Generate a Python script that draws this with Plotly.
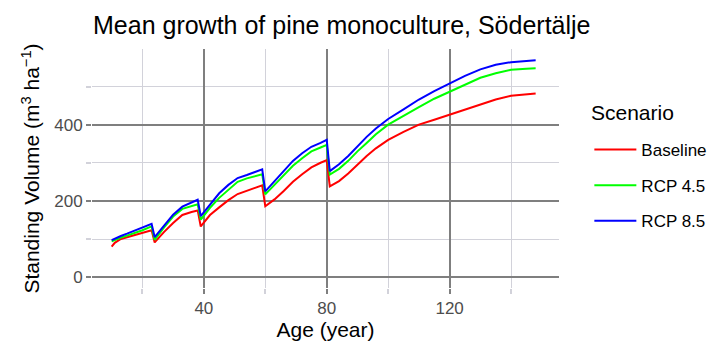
import plotly.graph_objects as go

ages = [10, 11, 13, 15, 17, 20, 23, 24, 27, 30, 33, 36, 38, 39, 42, 45, 48, 51, 54, 57, 59, 60,
        63, 66, 69, 72, 75, 78, 80, 81, 84, 87, 90, 93, 96, 100, 105, 110, 115, 120, 125, 130,
        135, 140, 145, 148]

baseline = [80, 90, 100, 105, 110, 117, 123, 91, 118, 142, 163, 171, 175, 133, 163, 183, 202, 218,
            226, 235, 241, 186, 204, 226, 250, 270, 288, 300, 307, 238, 252, 272, 295, 318, 338,
            360, 381, 400, 413, 426, 440, 453, 466, 476, 480, 482]

rcp45 = [94, 98, 104, 109, 114, 123, 133, 98, 130, 159, 179, 187, 191, 151, 182, 208, 230, 250,
         259, 265, 270, 217, 242, 268, 292, 312, 330, 340, 347, 269, 284, 305, 330, 352, 375,
         400, 424, 446, 468, 487, 506, 523, 535, 544, 547, 548]

rcp85 = [97, 101, 108, 114, 120, 130, 140, 105, 135, 164, 185, 196, 203, 160, 190, 220, 242, 260,
         268, 276, 283, 225, 252, 280, 305, 325, 342, 352, 360, 278, 296, 318, 343, 368, 390,
         415, 440, 466, 488, 508, 528, 545, 557, 564, 567, 569]

series = [("Baseline", baseline, "#FF0000"),
          ("RCP 4.5", rcp45, "#00FF00"),
          ("RCP 8.5", rcp85, "#0000FF")]

FONT = "Liberation Sans, Arial, sans-serif"
MAJOR = "#7f7f7f"
MINOR = "#d2d2da"

fig = go.Figure()
for name, vals, col in series:
    fig.add_trace(go.Scatter(x=ages, y=vals, mode="lines", name=name, legendgroup=name,
                             line=dict(color=col, width=2)))

fig.update_layout(
    width=712, height=347,
    margin=dict(l=92, r=153, t=49, b=59, autoexpand=False),
    paper_bgcolor="white", plot_bgcolor="white",
    font=dict(family=FONT, color="black"),
    title=dict(text="Mean growth of pine monoculture, Södertälje",
               font=dict(size=25, family=FONT, color="black"),
               xref="container", x=93 / 712, xanchor="left",
               yref="container", y=1 - 25 / 347, yanchor="middle"),
    legend=dict(font=dict(size=17, family=FONT, color="black"),
                x=1.065, xanchor="left", y=0.6525, yanchor="top",
                itemwidth=42, tracegroupgap=10.5, bgcolor="rgba(0,0,0,0)"),
    showlegend=True,
    annotations=[dict(text="Scenario", xref="paper", yref="paper",
                      x=(589 - 92) / 467, xanchor="left",
                      y=(288 - 112) / 239, yanchor="middle", showarrow=False,
                      font=dict(size=21, family=FONT, color="black"))],
)

fig.update_xaxes(
    range=[3.6, 155.6], tick0=0, dtick=40, showgrid=True, gridcolor=MAJOR, gridwidth=1.6,
    ticks="outside", ticklen=5, tickcolor=MAJOR, tickwidth=1.6,
    tickfont=dict(size=17, color="#4D4D4D", family=FONT),
    zeroline=False, showline=False,
    minor=dict(dtick=20, tick0=0, showgrid=True, gridcolor=MINOR, gridwidth=1,
               ticks="outside", ticklen=5, tickcolor=MINOR),
    title=dict(text="Age (year)", font=dict(size=21, family=FONT, color="black"), standoff=4),
)
fig.update_yaxes(
    range=[-28.5, 598.5], tick0=0, dtick=200, showgrid=True, gridcolor=MAJOR, gridwidth=1.6,
    ticks="outside", ticklen=5, tickcolor=MAJOR, tickwidth=1.6,
    tickfont=dict(size=17, color="#4D4D4D", family=FONT),
    zeroline=False, showline=False,
    minor=dict(dtick=100, tick0=0, showgrid=True, gridcolor=MINOR, gridwidth=1,
               ticks="outside", ticklen=5, tickcolor=MINOR),
    title=dict(text="Standing Volume (m<sup>3</sup> ha<sup>−1</sup>)",
               font=dict(size=21, family=FONT, color="black"), standoff=8),
)

fig.write_html("out.html")
